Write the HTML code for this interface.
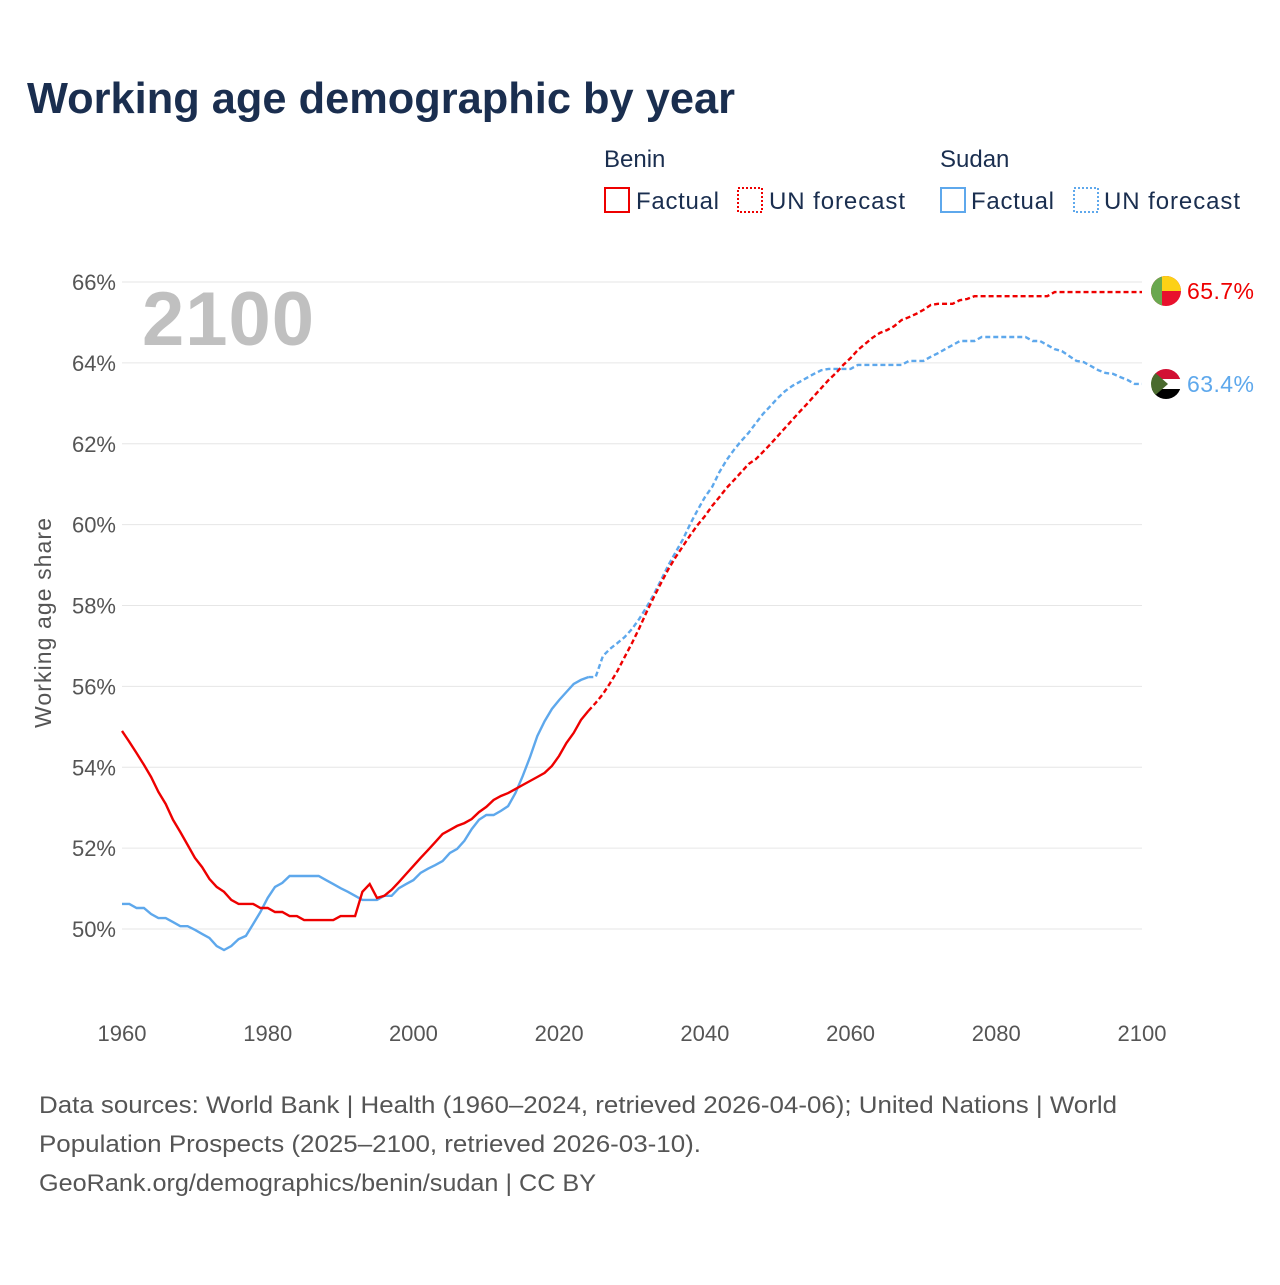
<!DOCTYPE html>
<html><head><meta charset="utf-8"><style>
body{margin:0;background:#fff;font-family:"Liberation Sans",sans-serif;}
svg text{font-family:"Liberation Sans",sans-serif;}
</style></head><body>
<svg id="chart" width="1280" height="1280" xmlns="http://www.w3.org/2000/svg">
<text x="27" y="113" font-size="44" font-weight="bold" fill="#1a2e4f" textLength="708" lengthAdjust="spacingAndGlyphs">Working age demographic by year</text>
<g>
<text x="604" y="167" font-size="24" fill="#1a2e4f">Benin</text>
<rect x="605" y="188" width="24" height="24" fill="none" stroke="#e00" stroke-width="2"/>
<text x="636" y="209" font-size="24" fill="#1a2e4f" textLength="83">Factual</text>
<rect x="738" y="188" width="24" height="24" fill="none" stroke="#e00" stroke-width="2" stroke-dasharray="2,2"/>
<text x="769" y="209" font-size="24" fill="#1a2e4f" textLength="136">UN forecast</text>
<text x="940" y="167" font-size="24" fill="#1a2e4f">Sudan</text>
<rect x="941" y="188" width="24" height="24" fill="none" stroke="#5ea8ec" stroke-width="2"/>
<text x="971" y="209" font-size="24" fill="#1a2e4f" textLength="83">Factual</text>
<rect x="1074" y="188" width="24" height="24" fill="none" stroke="#5ea8ec" stroke-width="2" stroke-dasharray="2,2"/>
<text x="1104" y="209" font-size="24" fill="#1a2e4f" textLength="136">UN forecast</text>
</g>
<g id="grid"></g>
<text x="142" y="345" font-size="76" font-weight="bold" fill="#c0c0c0" textLength="172">2100</text>
<text transform="translate(51,623) rotate(-90)" text-anchor="middle" font-size="23" fill="#555" textLength="210">Working age share</text>
<g id="series"></g>
<g>
<clipPath id="cb"><circle cx="1166" cy="291" r="15"/></clipPath>
<g clip-path="url(#cb)"><rect x="1151" y="276" width="30" height="30" fill="#e8112d"/><rect x="1161" y="276" width="20" height="15" fill="#fcd116"/><rect x="1151" y="276" width="11" height="30" fill="#6aa84f"/></g>
</g>
<g>
<clipPath id="cs"><circle cx="1166" cy="384" r="15"/></clipPath>
<g clip-path="url(#cs)"><rect x="1151" y="369" width="30" height="10" fill="#d21034"/><rect x="1151" y="379" width="30" height="10" fill="#fff"/><rect x="1151" y="389" width="30" height="10" fill="#000"/><polygon points="1151,369 1168,384 1151,399" fill="#4a6b2e"/></g>
</g>
<text x="1187" y="299" font-size="23" fill="#e00" textLength="67">65.7%</text>
<text x="1187" y="392" font-size="23" fill="#5ea8ec" textLength="67">63.4%</text>
<g font-size="24" fill="#555">
<text x="39" y="1113" textLength="1078" lengthAdjust="spacingAndGlyphs">Data sources: World Bank | Health (1960–2024, retrieved 2026-04-06); United Nations | World</text>
<text x="39" y="1152" textLength="662" lengthAdjust="spacingAndGlyphs">Population Prospects (2025–2100, retrieved 2026-03-10).</text>
<text x="39" y="1191" textLength="557" lengthAdjust="spacingAndGlyphs">GeoRank.org/demographics/benin/sudan | CC BY</text>
</g>
</svg>
<script>
const yTicks=[50,52,54,56,58,60,62,64,66];
const xTicks=[1960,1980,2000,2020,2040,2060,2080,2100];
const beninFactual=[54.90,54.63,54.35,54.06,53.76,53.39,53.09,52.70,52.40,52.08,51.76,51.53,51.24,51.04,50.92,50.72,50.62,50.62,50.62,50.52,50.52,50.42,50.42,50.32,50.32,50.22,50.22,50.22,50.22,50.22,50.32,50.32,50.32,50.92,51.11,50.77,50.82,50.97,51.16,51.36,51.56,51.76,51.95,52.15,52.35,52.45,52.55,52.62,52.72,52.89,53.02,53.19,53.29,53.36,53.46,53.56,53.66,53.76,53.86,54.03,54.28,54.60,54.85,55.17,55.39];
const beninForecast=[55.39,55.59,55.81,56.08,56.38,56.73,57.07,57.44,57.84,58.21,58.56,58.90,59.20,59.47,59.74,59.99,60.21,60.46,60.68,60.91,61.10,61.30,61.50,61.62,61.80,61.99,62.19,62.39,62.59,62.79,62.98,63.18,63.38,63.58,63.75,63.95,64.12,64.32,64.47,64.62,64.74,64.81,64.91,65.06,65.13,65.21,65.31,65.43,65.46,65.46,65.46,65.55,65.58,65.65,65.65,65.65,65.65,65.65,65.65,65.65,65.65,65.65,65.65,65.65,65.75,65.75,65.75,65.75,65.75,65.75,65.75,65.75,65.75,65.75,65.75,65.75,65.75];
const sudanFactual=[50.62,50.62,50.52,50.52,50.37,50.27,50.27,50.17,50.07,50.07,49.98,49.88,49.78,49.58,49.48,49.58,49.75,49.83,50.12,50.42,50.77,51.04,51.14,51.31,51.31,51.31,51.31,51.31,51.21,51.11,51.01,50.92,50.82,50.72,50.72,50.72,50.82,50.82,51.01,51.11,51.21,51.39,51.49,51.58,51.68,51.88,51.98,52.18,52.47,52.70,52.82,52.82,52.92,53.04,53.36,53.78,54.25,54.77,55.14,55.44,55.66,55.86,56.06,56.16,56.23];
const sudanForecast=[56.23,56.23,56.75,56.93,57.07,57.22,57.42,57.67,57.96,58.28,58.63,59.00,59.32,59.64,60.02,60.36,60.68,60.93,61.30,61.60,61.85,62.07,62.27,62.51,62.74,62.93,63.13,63.30,63.43,63.53,63.63,63.73,63.82,63.85,63.85,63.85,63.85,63.95,63.95,63.95,63.95,63.95,63.95,63.95,64.05,64.05,64.05,64.15,64.24,64.34,64.44,64.54,64.54,64.54,64.64,64.64,64.64,64.64,64.64,64.64,64.64,64.54,64.54,64.44,64.34,64.29,64.17,64.05,64.02,63.92,63.82,63.75,63.73,63.65,63.58,63.48,63.48];
const NS='http://www.w3.org/2000/svg';
const X=y=>122+(y-1960)*(1020/140);
const Y=v=>929-(v-50)*(647/16);
const grid=document.getElementById('grid');
yTicks.forEach(t=>{
  const l=document.createElementNS(NS,'line');
  l.setAttribute('x1',122);l.setAttribute('x2',1142);l.setAttribute('y1',Y(t));l.setAttribute('y2',Y(t));
  l.setAttribute('stroke','#e6e6e6');l.setAttribute('stroke-width',1);
  
  
  grid.appendChild(l);
  const tx=document.createElementNS(NS,'text');
  tx.setAttribute('x',116);tx.setAttribute('y',Y(t)+8);tx.setAttribute('text-anchor','end');
  tx.setAttribute('font-size','22');tx.setAttribute('fill','#555');tx.textContent=t+'%';
  
  
  grid.appendChild(tx);
});
xTicks.forEach(t=>{
  const tx=document.createElementNS(NS,'text');
  tx.setAttribute('x',X(t));tx.setAttribute('y',1041);tx.setAttribute('text-anchor','middle');
  tx.setAttribute('font-size','22');tx.setAttribute('fill','#555');tx.textContent=t;
  
  
  grid.appendChild(tx);
});
const series=document.getElementById('series');
function line(vals,start,color,dash,name){
  const p=document.createElementNS(NS,'path');
  p.setAttribute('d',vals.map((v,i)=>(i?'L':'M')+X(start+i).toFixed(1)+','+Y(v).toFixed(1)).join(''));
  p.setAttribute('fill','none');p.setAttribute('stroke',color);p.setAttribute('stroke-width',2.4);
  if(dash)p.setAttribute('stroke-dasharray','5,3');
  
  
  series.appendChild(p);
}
line(sudanFactual,1960,'#5ea8ec',false,'sudan-factual-line');
line(sudanForecast,2024,'#5ea8ec',true,'sudan-forecast-line');
line(beninFactual,1960,'#ee0000',false,'benin-factual-line');
line(beninForecast,2024,'#ee0000',true,'benin-forecast-line');
</script>
</body></html>
